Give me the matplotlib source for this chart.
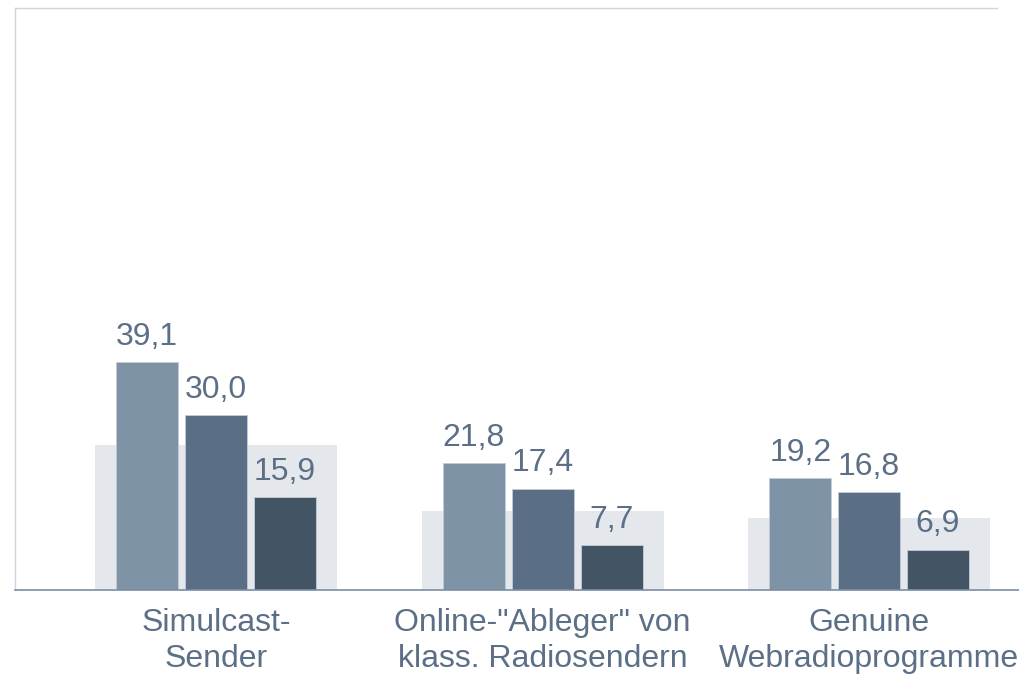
import matplotlib.pyplot as plt
import numpy as np

plt.rcParams['font.family'] = ['Liberation Sans', 'DejaVu Sans']

categories = ['Simulcast-\nSender', 'Online-"Ableger" von\nklass. Radiosendern',
              'Genuine\nWebradioprogramme']
totals = [25.0, 13.5, 12.3]
series_a = [39.1, 21.8, 19.2]
series_b = [30.0, 17.4, 16.8]
series_c = [15.9, 7.7, 6.9]

BG = '#e4e8ed'
COLORS = ['#7f93a7', '#5a6f86', '#435464']
TEXT = '#5b6f86'
BAR_W = 0.19
STEP = 0.211

fig = plt.figure(figsize=(10.2, 6.76), dpi=100)
ax = fig.add_axes([15 / 1020, 86 / 676, 1005 / 1020, 582 / 676])

x = np.arange(len(categories))

# wide background bars behind each group
ax.bar(x, totals, width=0.741, color=BG, zorder=1)

for i, (vals, col) in enumerate(zip([series_a, series_b, series_c], COLORS)):
    pos = x + (i - 1) * STEP
    ax.bar(pos, vals, width=BAR_W, color=col, edgecolor='#c3ccd6',
           linewidth=0.6, zorder=2)
    for px, v in zip(pos, vals):
        ax.annotate(f'{v:.1f}'.replace('.', ','), (px, v), xytext=(0, 12.5),
                    textcoords='offset points', ha='center', va='baseline',
                    fontsize=23, color=TEXT)

ax.set_xlim(-0.616, 2.462)
ax.set_ylim(0, 100)

for side in ['top', 'right', 'left']:
    ax.spines[side].set_visible(False)
ax.spines['bottom'].set_color('#7a8ea3')
ax.spines['bottom'].set_linewidth(1.2)
ax.spines['bottom'].set_zorder(3)

# thin frame lines at top and left
ax.plot([-0.616, 2.392], [100, 100], color='#ccd5df', lw=1.0, clip_on=False)
ax.plot([-0.616, -0.616], [0, 100], color='#ccd5df', lw=1.0, clip_on=False)

ax.set_yticks([])
ax.set_xticks(x)
ax.set_xticklabels(categories, fontsize=23, color=TEXT, linespacing=1.27)
ax.tick_params(axis='x', length=0, pad=13)

fig.savefig('out.png', dpi=100)
